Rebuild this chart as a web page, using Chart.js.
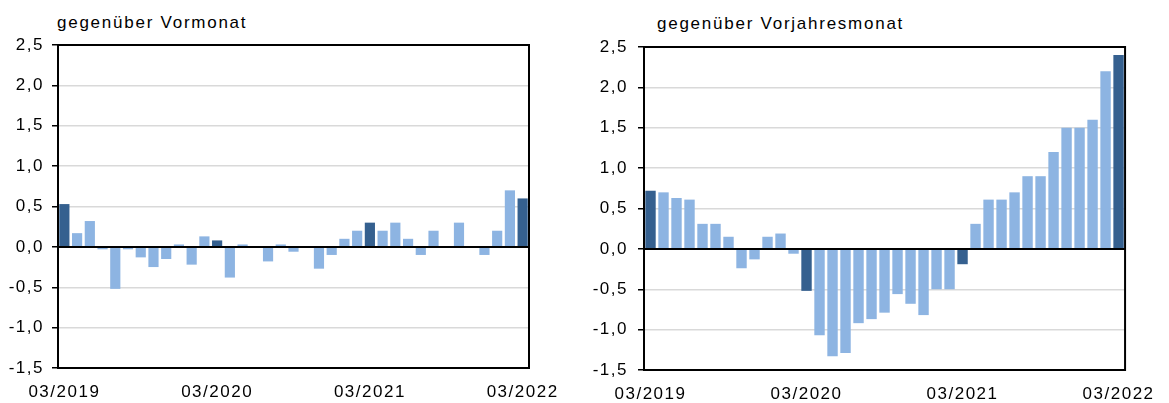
<!DOCTYPE html>
<html>
<head>
<meta charset="utf-8">
<script src="https://cdn.jsdelivr.net/npm/chart.js@4/dist/chart.umd.min.js"></script>
<style>
  body { margin: 0; background: #fff; }
  .wrap { position: relative; width: 1169px; height: 403px; font-family: "Liberation Sans", Arial, sans-serif; }
  canvas { position: absolute; top: 0; }
  .title { position: absolute; font-size: 17px; line-height: 17px; letter-spacing: 1.75px; color: #000; white-space: nowrap; }
</style>
</head>
<body>
<div class="wrap">
  <div class="title" style="left:57px; top:14px;">gegenüber Vormonat</div>
  <div class="title" style="left:657px; top:15px;">gegenüber Vorjahresmonat</div>
  <canvas id="left" width="575" height="403" style="left:0"></canvas>
  <canvas id="right" width="594" height="403" style="left:575px"></canvas>
</div>
<script>
const months = [
  "03/2019", "04/2019", "05/2019", "06/2019", "07/2019", "08/2019", "09/2019", "10/2019", "11/2019", "12/2019",
  "01/2020", "02/2020", "03/2020", "04/2020", "05/2020", "06/2020", "07/2020", "08/2020", "09/2020", "10/2020", "11/2020", "12/2020",
  "01/2021", "02/2021", "03/2021", "04/2021", "05/2021", "06/2021", "07/2021", "08/2021", "09/2021", "10/2021", "11/2021", "12/2021",
  "01/2022", "02/2022", "03/2022"
];

// Veränderung gegenüber Vormonat
const vormonat = [
  0.53, 0.17, 0.32, -0.03, -0.52, -0.03, -0.13, -0.25, -0.15, 0.03,
  -0.22, 0.13, 0.08, -0.38, 0.03, 0, -0.18, 0.03, -0.06, 0, -0.27, -0.1,
  0.1, 0.2, 0.3, 0.2, 0.3, 0.1, -0.1, 0.2, 0, 0.3, 0, -0.1,
  0.2, 0.7, 0.6
];

// Veränderung gegenüber Vorjahresmonat
const vorjahresmonat = [
  0.72, 0.7, 0.63, 0.61, 0.31, 0.31, 0.15, -0.24, -0.13, 0.15,
  0.19, -0.06, -0.52, -1.07, -1.33, -1.29, -0.92, -0.87, -0.79, -0.56, -0.68, -0.82,
  -0.5, -0.5, -0.19, 0.31, 0.61, 0.61, 0.7, 0.9, 0.9, 1.2, 1.5, 1.5,
  1.6, 2.2, 2.4
];

const yMin = -1.5;
const yMax = 2.5;
const yStep = 0.5;

const darkBlue = "#35608f";
const lightBlue = "#8db4e2";
const gridGrey = "#d9d9d9";
const font = { family: "'Liberation Sans', Arial, sans-serif", size: 17 };

// the original text is set rather wide, so space the canvas letters out a bit
const spacingPlugin = {
  id: "spacing",
  beforeUpdate(chart) { chart.ctx.letterSpacing = "1.5px"; },
  beforeDraw(chart) { chart.ctx.letterSpacing = "1.5px"; },
};

// black frame round the plot plus the zero line on top of the bars
const framePlugin = {
  id: "frame",
  afterDatasetsDraw(chart) {
    const { ctx, chartArea: a, scales } = chart;
    ctx.save();
    ctx.strokeStyle = "#000";
    ctx.lineWidth = 2;
    const y0 = scales.y.getPixelForValue(0);
    ctx.beginPath();
    ctx.moveTo(a.left, y0);
    ctx.lineTo(a.right, y0);
    ctx.stroke();
    ctx.strokeRect(a.left, a.top, a.right - a.left, a.bottom - a.top);
    ctx.restore();
  },
};

const makeChart = (id, values, opts) => {
  return new Chart(document.getElementById(id), {
    type: "bar",
    data: {
      labels: months,
      datasets: [
        {
          data: values,
          backgroundColor: months.map((m) => (m.startsWith("03/") ? darkBlue : lightBlue)),
          borderWidth: 0,
          barPercentage: 0.8,
          categoryPercentage: 1,
        },
      ],
    },
    options: {
      responsive: false,
      animation: false,
      layout: { padding: { top: opts.top, right: opts.right, left: 0, bottom: 0 } },
      plugins: { legend: { display: false }, tooltip: { enabled: false }, title: { display: false } },
      scales: {
        x: {
          grid: { display: false, drawTicks: false },
          border: { display: false },
          ticks: {
            autoSkip: false,
            maxRotation: 0,
            padding: 14,
            color: "#000",
            font: font,
            callback: (v, i) => (months[i].startsWith("03/") ? months[i] : ""),
          },
          afterFit: (s) => { s.height = opts.xHeight; },
        },
        y: {
          min: yMin,
          max: yMax,
          grid: { color: gridGrey, lineWidth: 1.5, drawTicks: true, tickLength: 6, tickColor: "#000", tickWidth: 1.5 },
          border: { display: false },
          ticks: {
            stepSize: yStep,
            padding: opts.tickPad,
            color: "#000",
            font: font,
            callback: (v) => v.toFixed(1).replace(".", ","),
          },
          afterFit: (s) => { s.width = opts.yWidth; },
        },
      },
    },
    plugins: [spacingPlugin, framePlugin],
  });
};

makeChart("left", vormonat, { top: 45, right: 46, xHeight: 35, yWidth: 58, tickPad: 8 });
makeChart("right", vorjahresmonat, { top: 47, right: 34, xHeight: 33, yWidth: 69, tickPad: 10 });
</script>
</body>
</html>
